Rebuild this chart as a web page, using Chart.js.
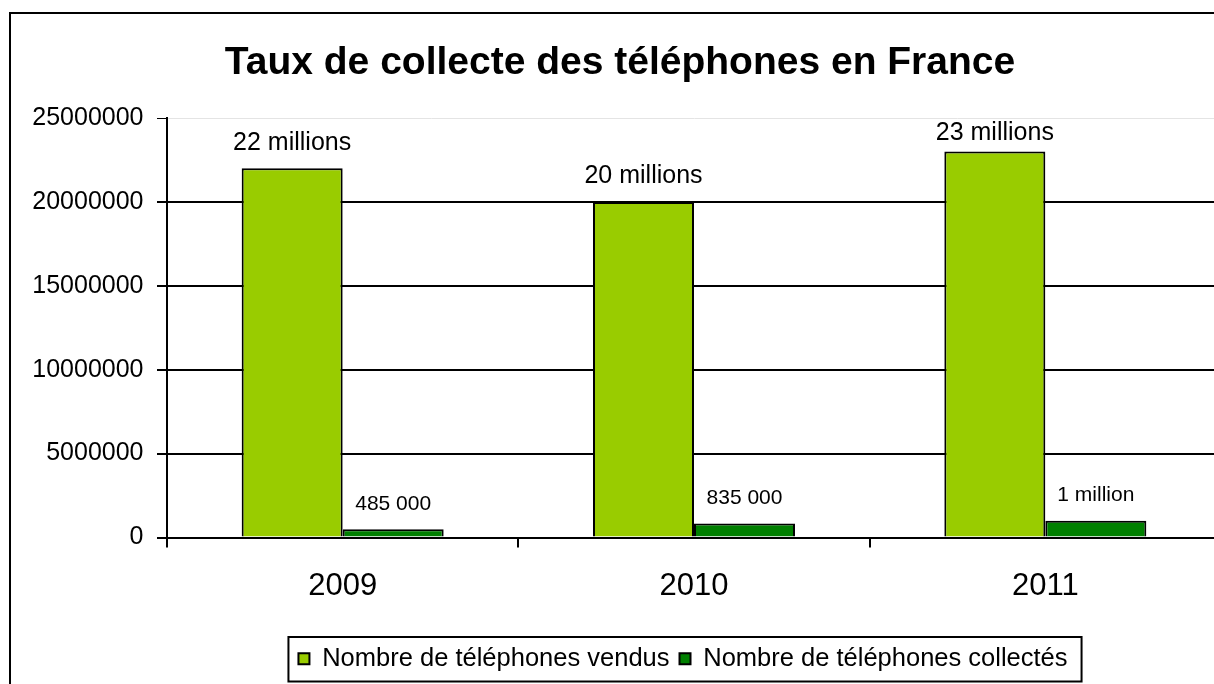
<!DOCTYPE html>
<html><head><meta charset="utf-8">
<script src="https://cdn.jsdelivr.net/npm/chart.js@4.4.0/dist/chart.umd.min.js"></script>
<style>
html,body{margin:0;padding:0;background:#fff;overflow:hidden;width:1214px;height:684px}
canvas{display:block}
</style></head><body>
<canvas id="c" width="1240" height="684" style="width:1240px;height:684px"></canvas>
<script>
const chartTitle = 'Taux de collecte des téléphones en France';
const years = ['2009', '2010', '2011'];
const seriesNames = ['Nombre de téléphones vendus', 'Nombre de téléphones collectés'];
const soldValues = [22000000, 20000000, 23000000];
const collectedValues = [485000, 835000, 1000000];
const soldLabels = ['22 millions', '20 millions', '23 millions'];
const collectedLabels = ['485 000', '835 000', '1 million'];
const yMin = 0, yMax = 25000000, yStep = 5000000;

const FONT = "'Liberation Sans', Arial, sans-serif";

const outerBorder = {
  id: 'outerBorder',
  beforeDraw(chart) {
    const c = chart.ctx;
    c.save();
    c.fillStyle = '#fff';
    c.fillRect(0, 0, chart.width, chart.height);
    c.strokeStyle = '#000';
    c.lineWidth = 2;
    c.strokeRect(10, 13, 1222, 700);
    c.restore();
  }
};

// centre the legend like the original (which is centred on a slightly narrower band)
const legendShift = {
  id: 'legendShift',
  afterLayout(chart) {
    const lg = chart.legend;
    if (!lg) return;
    lg.right = lg.left + 1032;
    lg.width = lg.right - lg.left;
    if (typeof lg.adjustHitBoxes === 'function') lg.adjustHitBoxes();
  }
};

const valueLabels = {
  id: 'valueLabels',
  afterDatasetsDraw(chart) {
    const c = chart.ctx;
    const sets = [[soldLabels, 25], [collectedLabels, 21]];
    c.save();
    c.fillStyle = '#000';
    c.textAlign = 'center';
    c.textBaseline = 'middle';
    sets.forEach(([labels, size], di) => {
      const meta = chart.getDatasetMeta(di);
      c.font = size + 'px ' + FONT;
      meta.data.forEach((bar, i) => {
        let y = bar.y - 25.5;
        y = Math.max(y, chart.chartArea.top + 15);
        c.fillText(labels[i], bar.x, y);
      });
    });
    c.restore();
  }
};

const legendBox = {
  id: 'legendBox',
  afterDraw(chart) {
    const lg = chart.legend;
    if (!lg || !lg.legendHitBoxes || !lg.legendHitBoxes.length) return;
    const hb = lg.legendHitBoxes;
    const left = hb[0].left - 10;
    const last = hb[hb.length - 1];
    const right = last.left + last.width + 14;
    const c = chart.ctx;
    c.save();
    c.strokeStyle = '#000';
    c.lineWidth = 2;
    c.strokeRect(left, lg.top + 1, right - left, lg.height - 1);
    c.restore();
  }
};

new Chart(document.getElementById('c'), {
  type: 'bar',
  data: {
    labels: years,
    datasets: [
      { label: seriesNames[0], data: soldValues, backgroundColor: '#99CC00', borderColor: '#000', borderWidth: 2 },
      { label: seriesNames[1], data: collectedValues, backgroundColor: '#008000', borderColor: '#000', borderWidth: 2 }
    ]
  },
  options: {
    responsive: false,
    animation: false,
    devicePixelRatio: 1,
    layout: { padding: { left: 19, right: 19, top: 10, bottom: 2.5 } },
    datasets: { bar: { categoryPercentage: 0.575, barPercentage: 1.0 } },
    scales: {
      x: {
        offset: true,
        grid: { offset: true, drawOnChartArea: false, color: '#000', lineWidth: 2, tickLength: 10 },
        border: { display: true, color: '#000', width: 2 },
        ticks: { color: '#000', font: { family: FONT, size: 31 }, padding: 20, maxRotation: 0 },
        afterFit(scale) { scale.height = 98.5; }
      },
      y: {
        min: yMin, max: yMax,
        grid: {
          color: (ctx) => (ctx.tick && ctx.tick.value === yMax) ? '#e4e4e4' : '#000',
          lineWidth: (ctx) => (ctx.tick && ctx.tick.value === yMax) ? 1 : 2,
          tickColor: '#000', tickLength: 10
        },
        border: { display: true, color: '#000', width: 2 },
        ticks: {
          stepSize: yStep, color: '#000', font: { family: FONT, size: 25 }, padding: 13.5,
          callback: (v) => String(v)
        },
        afterFit(scale) { scale.width = 148; }
      }
    },
    plugins: {
      title: {
        display: true, text: chartTitle, color: '#000',
        font: { family: FONT, size: 39, weight: 'bold' },
        padding: { top: 30, bottom: 31.2 }
      },
      legend: {
        position: 'bottom', fullSize: false,
        labels: { color: '#000', font: { family: FONT, size: 25.5 }, boxWidth: 11, boxHeight: 11, padding: 10 }
      },
      tooltip: { enabled: false }
    }
  },
  plugins: [outerBorder, legendShift, valueLabels, legendBox]
});
</script>
</body></html>
